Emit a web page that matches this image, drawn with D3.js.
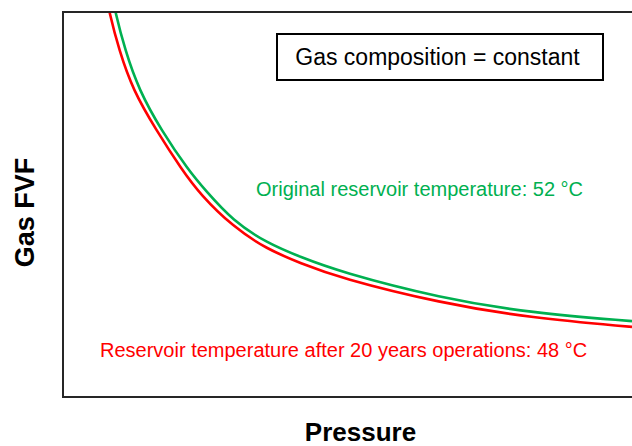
<!DOCTYPE html>
<html><head><meta charset="utf-8">
<script src="https://cdn.jsdelivr.net/npm/d3@7"></script>
<style>body{margin:0;background:#fff}svg{display:block}text{font-family:"Liberation Sans",Arial,sans-serif}</style>
</head><body><svg id="c" width="632" height="446"></svg>
<script>
// Pressure (relative units, 0-100) and Gas FVF (relative units, 0-100)
const pressureGreen = [8.44, 9.14, 10.90, 13.36, 17.22, 22.14, 24.96, 29.88, 35.85, 41.65, 48.68, 66.26, 82.43, 100];
const fvfGreen      = [105.7, 100.3, 90.1, 79.7, 69.4, 58.7, 53.8, 45.7, 40.0, 36.4, 32.5, 25.7, 21.8, 19.7];
const pressureRed   = [7.38, 8.08, 9.84, 12.30, 16.34, 20.91, 24.08, 29.88, 35.85, 41.65, 48.68, 66.26, 82.43, 100];
const fvfRed        = [105.7, 100.3, 90.1, 79.7, 69.4, 59.0, 52.7, 44.2, 38.4, 34.8, 30.9, 24.4, 20.5, 18.2];
const xLabel = "Pressure";
const yLabel = "Gas FVF";
const boxLabel = "Gas composition = constant";
const greenLabel = "Original reservoir temperature: 52 °C";
const redLabel = "Reservoir temperature after 20 years operations: 48 °C";

const svg = d3.select("#c");
const pL = 63, pT = 12, pR = 632, pB = 397;
const x = d3.scaleLinear().domain([0, 100]).range([pL, pR]);
const y = d3.scaleLinear().domain([0, 100]).range([pB, pT]);

svg.append("defs").append("clipPath").attr("id", "clip")
  .append("rect").attr("x", pL).attr("y", pT).attr("width", pR - pL + 10).attr("height", pB - pT);

const line = d3.line().x(d => x(d[0])).y(d => y(d[1])).curve(d3.curveBasis);
const g = svg.append("g").attr("clip-path", "url(#clip)");
g.append("path").datum(d3.zip(pressureRed, fvfRed)).attr("d", line)
  .attr("fill", "none").attr("stroke", "#FF0000").attr("stroke-width", 2.6);
g.append("path").datum(d3.zip(pressureGreen, fvfGreen)).attr("d", line)
  .attr("fill", "none").attr("stroke", "#00B050").attr("stroke-width", 2.6);

// axes frame (right side runs off the page)
svg.append("rect").attr("x", pL).attr("y", pT).attr("width", pR - pL + 20).attr("height", pB - pT)
  .attr("fill", "none").attr("stroke", "#262626").attr("stroke-width", 2);

// annotation box
svg.append("rect").attr("x", 277).attr("y", 34).attr("width", 326).attr("height", 46)
  .attr("fill", "#fff").attr("stroke", "#000").attr("stroke-width", 2);
svg.append("text").attr("x", 437.5).attr("y", 65).attr("text-anchor", "middle")
  .attr("font-size", 23).attr("fill", "#000").text(boxLabel);

svg.append("text").attr("x", 256).attr("y", 196).attr("font-size", 20)
  .attr("fill", "#00B050").text(greenLabel);
svg.append("text").attr("x", 100).attr("y", 357).attr("font-size", 20)
  .attr("fill", "#FF0000").text(redLabel);

svg.append("text").attr("x", 360.5).attr("y", 441).attr("text-anchor", "middle")
  .attr("font-size", 26).attr("font-weight", "bold").attr("fill", "#000").text(xLabel);
svg.append("text").attr("transform", "translate(34,212.5) rotate(-90)").attr("text-anchor", "middle")
  .attr("font-size", 27).attr("font-weight", "bold").attr("fill", "#000").text(yLabel);
</script></body></html>
